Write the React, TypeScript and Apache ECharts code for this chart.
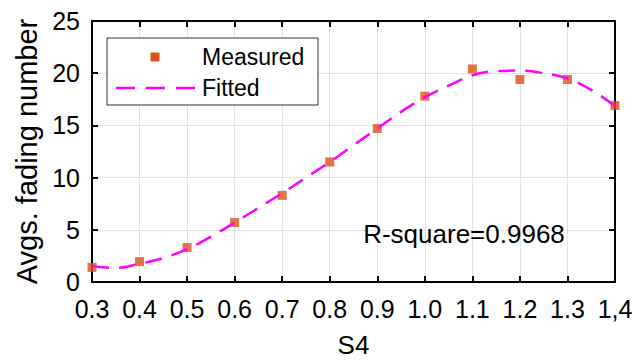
import React, { useEffect, useRef } from "react";
import * as echarts from "echarts";

const xTickLabels = ["0.3", "0.4", "0.5", "0.6", "0.7", "0.8", "0.9", "1.0", "1.1", "1.2", "1.3", "1,4"];
const measuredX = [0.3, 0.4, 0.5, 0.6, 0.7, 0.8, 0.9, 1.0, 1.1, 1.2, 1.3, 1.4];
const measuredY = [1.4, 1.95, 3.3, 5.7, 8.3, 11.5, 14.7, 17.8, 20.4, 19.4, 19.4, 16.9];
const fittedX = [0.3, 0.35, 0.4, 0.45, 0.5, 0.55, 0.6, 0.65, 0.7, 0.75, 0.8, 0.85, 0.9, 0.95, 1.0, 1.05, 1.1, 1.15, 1.2, 1.25, 1.3, 1.35, 1.4];
const fittedY = [1.5, 1.35, 1.75, 2.3, 3.15, 4.35, 5.7, 7.1, 8.5, 10.0, 11.5, 13.1, 14.7, 16.3, 17.7, 18.8, 19.8, 20.2, 20.25, 20.0, 19.5, 18.4, 16.85];
const rSquareText = "R-square=0.9968";

const FONT = "'Liberation Sans', Arial, sans-serif";
const MARK = "#D95319";
const FIT = "#FF00FF";

export default function App() {
  const ref = useRef<HTMLDivElement>(null);
  useEffect(() => {
    if (!ref.current) return;
    const chart = echarts.init(ref.current, null, { renderer: "svg" });
    const xLabel = (v: number) => {
      const i = Math.round((v - 0.3) / 0.1);
      return xTickLabels[i] ?? "";
    };
    const axisCommon = {
      axisLine: { show: true, onZero: false, lineStyle: { color: "#000", width: 2 } },
      axisTick: { show: true, inside: true, length: 6, lineStyle: { color: "#000", width: 2 } },
    };
    chart.setOption({
      animation: false,
      backgroundColor: "#fff",
      textStyle: { fontFamily: FONT },
      grid: { left: 92, right: 28, top: 21, bottom: 74, containLabel: false },
      xAxis: [
        {
          type: "value",
          min: 0.3,
          max: 1.4,
          interval: 0.1,
          ...axisCommon,
          axisLabel: { formatter: xLabel, color: "#000", fontSize: 25, margin: 14, fontFamily: FONT, showMaxLabel: true, showMinLabel: true },
          splitLine: { show: true, lineStyle: { color: "#e3e3e3", width: 1 } },
          name: "S4",
          nameLocation: "middle",
          nameGap: 50,
          nameTextStyle: { color: "#000", fontSize: 26, fontFamily: FONT },
        },
        {
          type: "value",
          position: "top",
          min: 0.3,
          max: 1.4,
          interval: 0.1,
          ...axisCommon,
          axisLabel: { show: false },
          splitLine: { show: false },
        },
      ],
      yAxis: [
        {
          type: "value",
          min: 0,
          max: 25,
          interval: 5,
          ...axisCommon,
          axisLabel: { color: "#000", fontSize: 25, margin: 12, fontFamily: FONT },
          splitLine: { show: true, lineStyle: { color: "#e3e3e3", width: 1 } },
          name: "Avgs. fading number",
          nameLocation: "middle",
          nameGap: 49,
          nameTextStyle: { color: "#000", fontSize: 29, fontFamily: FONT },
        },
        {
          type: "value",
          position: "right",
          min: 0,
          max: 25,
          interval: 5,
          ...axisCommon,
          axisLabel: { show: false },
          splitLine: { show: false },
        },
      ],
      series: [
        {
          name: "Measured",
          type: "scatter",
          symbol: "rect",
          symbolSize: 9,
          itemStyle: { color: MARK },
          data: measuredX.map((x, i) => [x, measuredY[i]]),
          z: 2,
        },
        {
          name: "Fitted",
          type: "line",
          smooth: 0.4,
          showSymbol: false,
          symbol: "none",
          lineStyle: { color: FIT, width: 2.5, type: [17, 10] },
          data: fittedX.map((x, i) => [x, fittedY[i]]),
          z: 3,
        },
      ],
      graphic: [
        {
          type: "rect",
          shape: { x: 107, y: 38, width: 211, height: 67 },
          style: { fill: "#fff", stroke: "#333", lineWidth: 1 },
          z: 10,
        },
        {
          type: "rect",
          shape: { x: 150.5, y: 52.5, width: 9, height: 9 },
          style: { fill: MARK },
          z: 11,
        },
        {
          type: "line",
          shape: { x1: 116, y1: 88, x2: 195, y2: 88 },
          style: { stroke: FIT, lineWidth: 2.5, lineDash: [19, 11] },
          z: 11,
        },
        {
          type: "text",
          x: 202,
          y: 57,
          style: { text: "Measured", fontSize: 23, fontFamily: FONT, fill: "#000", verticalAlign: "middle", align: "left" },
          z: 11,
        },
        {
          type: "text",
          x: 202,
          y: 88,
          style: { text: "Fitted", fontSize: 23, fontFamily: FONT, fill: "#000", verticalAlign: "middle", align: "left" },
          z: 11,
        },
        {
          type: "text",
          x: 464,
          y: 234,
          style: { text: rSquareText, fontSize: 26, fontFamily: FONT, fill: "#000", verticalAlign: "middle", align: "center" },
          z: 11,
        },
      ],
    });
    return () => chart.dispose();
  }, []);
  return <div ref={ref} style={{ width: 643, height: 363, position: "absolute", left: 0, top: 0 }} />;
}
